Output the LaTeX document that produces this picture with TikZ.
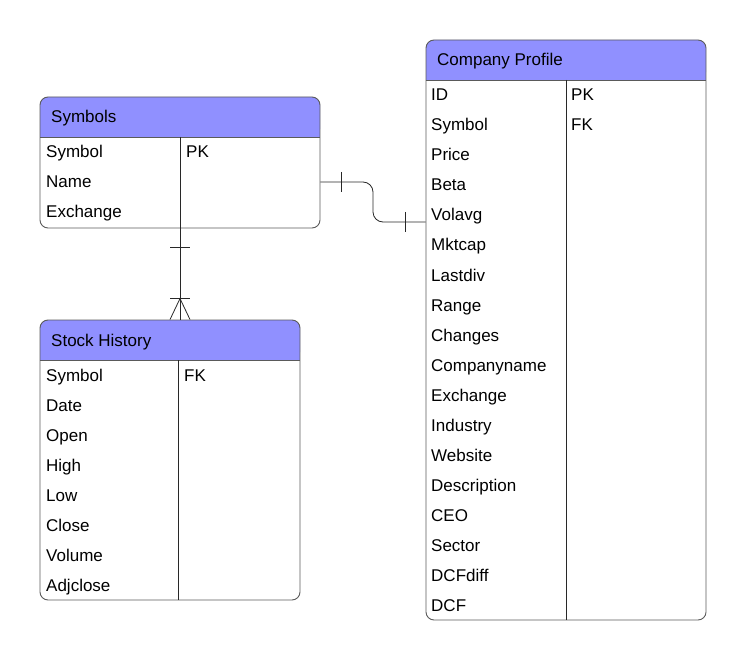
\documentclass[tikz,border=0pt]{standalone}
\usepackage{fontspec}
\setmainfont{Liberation Sans}
\usepackage{tikz}
\usetikzlibrary{calc}
\definecolor{erHead}{RGB}{144,144,255}
\definecolor{erFrame}{RGB}{90,90,90}
\definecolor{erLine}{RGB}{40,40,40}

\begin{document}
\begin{tikzpicture}[
    x=1pt, y=-1pt,
    font=\fontsize{17}{20}\selectfont,
    tbl/.style={draw=erFrame, line width=0.9pt, rounded corners=8pt,
                inner sep=0pt},
    head/.style={fill=erHead, rounded corners=8pt},
    htxt/.style={anchor=west, inner sep=0pt, text height=16pt, text depth=4pt},
    cell/.style={anchor=west, inner sep=0pt, text height=16pt, text depth=4pt},
    sep/.style={draw=erFrame, line width=0.8pt},
    col/.style={draw=erLine, line width=0.8pt},
    rel/.style={draw=erLine, line width=0.8pt}
]
\useasboundingbox (0,0) rectangle (746,660);

% Symbols
\fill[head] (40,97) rectangle (320,137);
\fill[erHead] (40,117) rectangle (320,137);
\node[tbl, minimum width=280pt, minimum height=131pt] (sym) at (180,162.5) {};
\draw[sep] (40,137) -- (320,137);
\draw[col] (180,137) -- (180,228);
\node[htxt] (symH) at (51,117) {Symbols};
\node[cell] (s1) at (46,152) {Symbol};
\node[cell] (s1k) at (186,152) {PK};
\node[cell] (s2) at (46,182) {Name};
\node[cell] (s3) at (46,212) {Exchange};

% Stock History
\fill[head] (40,320) rectangle (300,360);
\fill[erHead] (40,340) rectangle (300,360);
\node[tbl, minimum width=260pt, minimum height=280pt] (sh) at (170,460) {};
\draw[sep] (40,360) -- (300,360);
\draw[col] (178,360) -- (178,600);
\node[htxt] (shH) at (51,340) {Stock History};
\node[cell] (h1) at (46,375) {Symbol};
\node[cell] (h1k) at (184,375) {FK};
\node[cell] (h2) at (46,405) {Date};
\node[cell] (h3) at (46,435) {Open};
\node[cell] (h4) at (46,465) {High};
\node[cell] (h5) at (46,495) {Low};
\node[cell] (h6) at (46,525) {Close};
\node[cell] (h7) at (46,555) {Volume};
\node[cell] (h8) at (46,585) {Adjclose};

% Company Profile
\fill[head] (426,40) rectangle (706,80);
\fill[erHead] (426,60) rectangle (706,80);
\node[tbl, minimum width=280pt, minimum height=580pt] (cp) at (566,330) {};
\draw[sep] (426,80) -- (706,80);
\draw[col] (566,80) -- (566,620);
\node[htxt] (cpH) at (437,60) {Company Profile};
\node[cell] (c1) at (431,95) {ID};
\node[cell] (c1k) at (571,95) {PK};
\node[cell] (c2) at (431,125) {Symbol};
\node[cell] (c2k) at (571,125) {FK};
\node[cell] (c3) at (431,155) {Price};
\node[cell] (c4) at (431,185) {Beta};
\node[cell] (c5) at (431,215) {Volavg};
\node[cell] (c6) at (431,245) {Mktcap};
\node[cell] (c7) at (431,275) {Lastdiv};
\node[cell] (c8) at (431,305) {Range};
\node[cell] (c9) at (431,335) {Changes};
\node[cell] (c10) at (431,365) {Companyname};
\node[cell] (c11) at (431,395) {Exchange};
\node[cell] (c12) at (431,425) {Industry};
\node[cell] (c13) at (431,455) {Website};
\node[cell] (c14) at (431,485) {Description};
\node[cell] (c15) at (431,515) {CEO};
\node[cell] (c16) at (431,545) {Sector};
\node[cell] (c17) at (431,575) {DCFdiff};
\node[cell] (c18) at (431,605) {DCF};

% one-to-one: Symbols -- Company Profile
\coordinate (a1) at (sym.east |- s2);
\coordinate (a2) at ($(cp.west |- c5)+(0,7)$);
\draw[rel, rounded corners=10pt] (a1) -- (373,182) -- (373,222) -- (a2);
\draw[rel] ($(a1)+(21,-10)$) -- ++(0,20);
\draw[rel] ($(a2)+(-20,-10)$) -- ++(0,20);

% one-to-many: Symbols -- Stock History
\coordinate (b1) at (sym.south);
\coordinate (b2) at (sh.north -| sym.south);
\draw[rel] (b1) -- (b2);
\draw[rel] ($(b1)+(-10,19)$) -- ++(20,0);
\draw[rel] ($(b2)+(-10,-21)$) -- ++(20,0);
\draw[rel] ($(b2)+(-10,0)$) -- ($(b2)+(0,-21)$) -- ($(b2)+(10,0)$);
\end{tikzpicture}
\end{document}
